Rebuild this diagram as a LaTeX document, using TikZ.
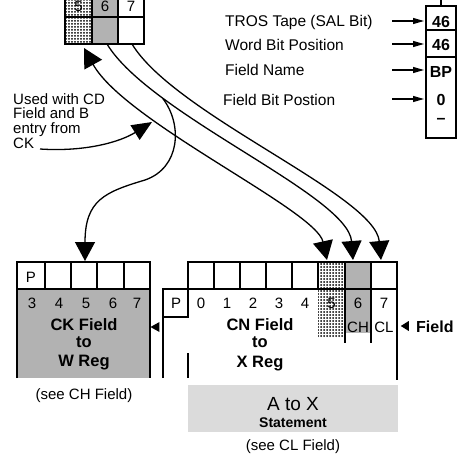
\documentclass[tikz,border=0pt]{standalone}
\usepackage{fontspec}
\setmainfont{Liberation Sans}
\usetikzlibrary{arrows.meta,patterns,shapes.geometric}
\pgfdeclarepatternformonly{cdots}{\pgfqpoint{-1.5pt}{-1.5pt}}{\pgfqpoint{1.5pt}{1.5pt}}{\pgfqpoint{3pt}{3pt}}%
  {\pgfpathcircle{\pgfqpoint{0pt}{0pt}}{1pt}\pgfusepath{fill}}
\tikzset{
  reg/.style={draw, line width=1.3pt},
  t15/.style={inner sep=0pt, font=\fontsize{15}{15}\selectfont},
  tr/.style={inner sep=0pt, font=\fontsize{15.5}{15.5}\selectfont},
  b16/.style={inner sep=0pt, font=\fontsize{16.5}{16.5}\selectfont\bfseries},
  bc/.style={inner sep=0pt, font=\fontsize{16}{16}\selectfont\bfseries},
  curve/.style={line width=1.3pt},
  big/.style={-{Triangle[length=19pt,width=20pt]}},
  small/.style={line width=1.1pt,-{Triangle[length=11pt,width=6pt]}},
  stip/.style={fill=black!30},
  light/.style={fill=black!14},
  coarse/.style={pattern=cdots, pattern color=black}
}
\begin{document}
\begin{tikzpicture}[x=1pt,y=-1pt]
\useasboundingbox (0,0) rectangle (468,456);
\clip (0,0) rectangle (468,456);

% ---------- top box (partly cut) ----------
\fill[coarse] (65,-10) rectangle (92,44);
\fill[stip] (92,-10) rectangle (118,44);
\draw[reg] (65,-10) rectangle (144,44);
\draw[reg] (92,-10) -- (92,44) (118,-10) -- (118,44) (65,17) -- (144,17);
\node[t15, anchor=base] (n5) at (78.5,11) {5};
\node[t15, anchor=base] (n6) at (105,11) {6};
\node[t15, anchor=base] (n7) at (131,11) {7};

% ---------- right column ----------
\draw[reg] (426,6) rectangle (456,138);
\draw[reg] (426,30) -- (456,30) (426,57) -- (456,57) (441,0) -- (441,6);
\node[bc, anchor=base] (v1) at (441,27) {46};
\node[bc, anchor=base] (v2) at (441,50) {46};
\node[bc, anchor=base] (v3) at (441,77) {BP};
\node[bc, anchor=base] (v4) at (441,105) {0};
\node[bc, anchor=base] (v5) at (441,123) {–};

\node[tr, anchor=base west] (l1) at (225,26.5) {TROS Tape (SAL Bit)};
\node[tr, anchor=base west] (l2) at (225,50) {Word Bit Position};
\node[tr, anchor=base west] (l3) at (225,75) {Field Name};
\node[tr, anchor=base west] (l4) at (223,105) {Field Bit Postion};
\coordinate (a1) at (392,21);  \coordinate (b1) at (424,21);
\coordinate (a2) at (392,44);  \coordinate (b2) at (424,44);
\coordinate (a3) at (392,70);  \coordinate (b3) at (424,70);
\coordinate (a4) at (392,99);  \coordinate (b4) at (424,99);
\draw[small] (a1) -- (b1);
\draw[small] (a2) -- (b2);
\draw[small] (a3) -- (b3);
\draw[small] (a4) -- (b4);

% ---------- left label ----------
\node[t15, anchor=north west, align=left, font=\fontsize{15}{14.8}\selectfont] (used) at (13,93)
  {Used with CD\\Field and B\\entry from\\CK};

% ---------- CK register ----------
\fill[stip] (17,289) rectangle (150,378);
\draw[reg] (17,378) -- (17,262) -- (150,262) -- (150,378);
\draw[reg] (17,289) -- (150,289);
\draw[reg] (45,262) -- (45,289) (71,262) -- (71,289) (97,262) -- (97,289) (124,262) -- (124,289);
\node[t15, anchor=base] (kp) at (31,282) {P};
\node[t15, anchor=base] (k3) at (32,308) {3};
\node[t15, anchor=base] (k4) at (59,308) {4};
\node[t15, anchor=base] (k5) at (86,308) {5};
\node[t15, anchor=base] (k6) at (113,308) {6};
\node[t15, anchor=base] (k7) at (137,308) {7};
\node[b16, anchor=base] (ck1) at (84,330) {CK Field};
\node[b16, anchor=base] (ck2) at (84,347) {to};
\node[b16, anchor=base] (ck3) at (84,366) {W Reg};
\node[t15, anchor=base] (ckn) at (84,399) {(see CH Field)};
\node[fill, isosceles triangle, isosceles triangle stretches, shape border rotate=180,
      minimum height=9pt, minimum width=10pt, inner sep=0pt] (mk1) at (156.5,327) {};

% ---------- CN register ----------
\fill[coarse] (318,262) rectangle (345,337);
\fill[stip] (345,262) rectangle (371,333);
\draw[reg] (188,262) rectangle (397,289);
\draw[reg] (214,262) -- (214,289) (240,262) -- (240,289) (266,262) -- (266,289)
           (292,262) -- (292,289) (318,262) -- (318,289) (345,262) -- (345,289)
           (371,262) -- (371,289);
\draw[reg] (163,378) -- (163,289) -- (397,289) -- (397,380);
\draw[reg] (163,317) -- (188,317) -- (188,289);
\draw[reg] (188,353) -- (188,378);
\draw[reg] (345,289) -- (345,343) (371,289) -- (371,343);
\node[t15, anchor=base] (cp) at (176,308) {P};
\node[t15, anchor=base] (c0) at (201,308) {0};
\node[t15, anchor=base] (c1) at (227,308) {1};
\node[t15, anchor=base] (c2) at (253,308) {2};
\node[t15, anchor=base] (c3) at (279,308) {3};
\node[t15, anchor=base] (c4) at (305,308) {4};
\node[t15, anchor=base] (cc5) at (331.5,308) {5};
\node[t15, anchor=base] (cc6) at (358,308) {6};
\node[t15, anchor=base] (cc7) at (384,308) {7};
\node[b16, anchor=base] (cn1) at (260,330) {CN Field};
\node[b16, anchor=base] (cn2) at (260,347) {to};
\node[b16, anchor=base] (cn3) at (260,367) {X Reg};
\node[t15, anchor=base] (ch) at (358,332) {CH};
\node[t15, anchor=base] (cl) at (384,332) {CL};
\node[fill, isosceles triangle, isosceles triangle stretches, shape border rotate=180,
      minimum height=8pt, minimum width=10pt, inner sep=0pt] (mk2) at (406,326) {};
\node[bc, anchor=base west] (fld) at (416,332) {Field};

\fill[light] (188,385) rectangle (398,432);
\node[inner sep=0pt, font=\fontsize{19}{19}\selectfont, anchor=base] (ax) at (293,410) {A to X};
\node[inner sep=0pt, font=\fontsize{14}{14}\selectfont\bfseries, anchor=base] (st) at (293,427) {Statement};
\node[t15, anchor=base] (cln) at (293,450) {(see CL Field)};

% ---------- connectors ----------
\coordinate (t5) at (84,48);
\coordinate (t6) at (107,44);
\coordinate (t7) at (132,44);
\coordinate (e5) at (327,260);
\coordinate (e6) at (353,260);
\coordinate (e7) at (381,260);
\coordinate (eck) at (85,261);
\coordinate (sm) at (145,180);
\coordinate (us) at (40,149);
\coordinate (ut) at (152,122);

\draw[curve, big] (t7) .. controls (175,115) and (375,195) .. (e7);
\draw[curve, big] (t6) .. controls (150,115) and (348,195) .. (e6) coordinate[pos=0.25] (jn);
\draw[curve, {Triangle[length=19pt,width=20pt]}-{Triangle[length=19pt,width=20pt]}]
     (t5) .. controls (125,122) and (316,210) .. (e5);
\draw[curve, big] (jn) .. controls (183,125) and (180,168) .. (sm)
                       .. controls (105,192) and (85,200) .. (eck);
\draw[curve, -{Triangle[length=20pt,width=17pt]}] (us) .. controls (85,152) and (120,142) .. (ut);
\end{tikzpicture}
\end{document}
